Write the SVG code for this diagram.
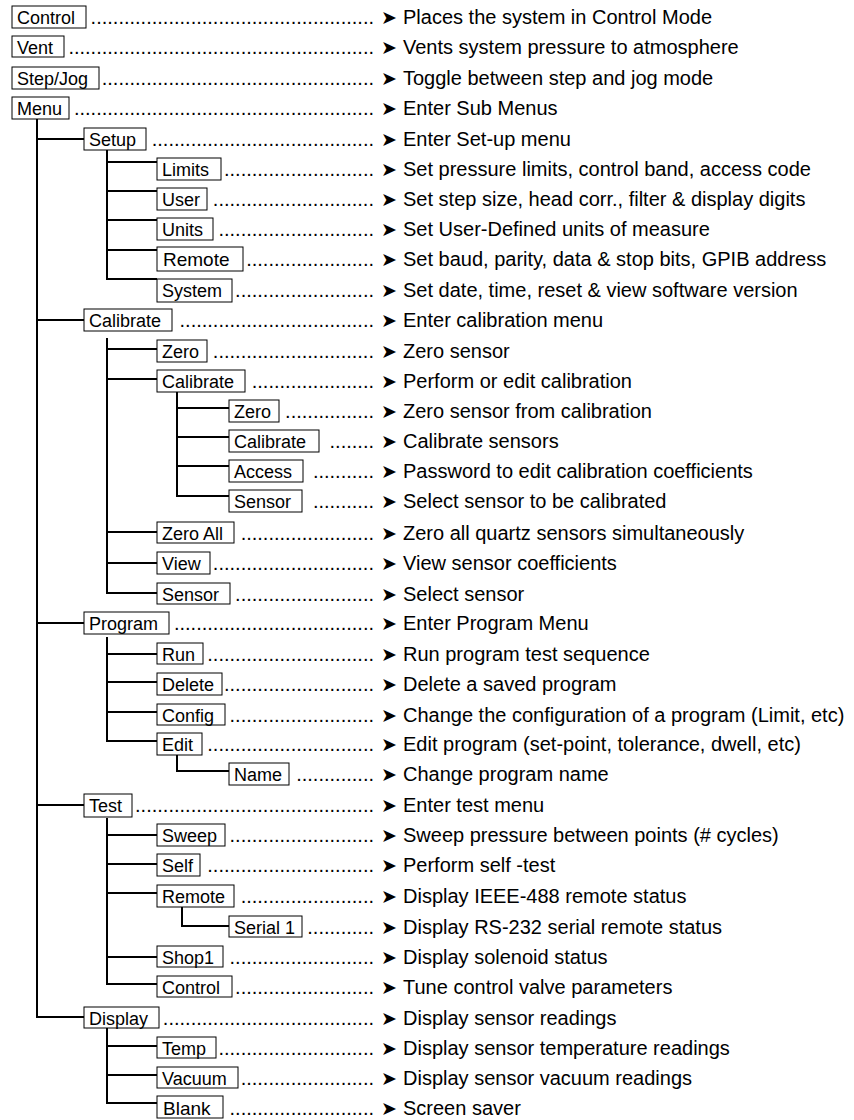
<svg xmlns="http://www.w3.org/2000/svg" width="854" height="1120" viewBox="0 0 854 1120">
<style>
.box{fill:#fff;stroke:#000;stroke-width:1}
.lbl{font-family:"Liberation Sans",Arial,sans-serif;font-size:18px;fill:#000}
.dots{font-family:"Liberation Sans",Arial,sans-serif;font-size:20px;fill:#000;text-anchor:end}
.desc{font-family:"Liberation Sans",Arial,sans-serif;font-size:20px;fill:#000}
.arr{font-family:"DejaVu Sans",sans-serif;font-size:19px;fill:#000}
.tree{stroke:#000;stroke-width:2;fill:none}
</style>
<rect width="854" height="1120" fill="#fff"/>
<g id="connectors" class="tree">
<path d="M37,119V1017H84M37,139H84M37,320H84M37,623H84M37,805H84"/>
<path d="M107,150V279H157M107,162H157M107,191H157M107,220H157M107,250H157"/>
<path d="M107,338V593H157M107,349H157M107,379H157M107,532H157M107,563H157"/>
<path d="M177,392V496H229M177,408H229M177,437H229M177,466H229"/>
<path d="M107,637V741H157M107,654H157M107,682H157M107,712H157"/>
<path d="M177,755V771H229"/>
<path d="M107,818V984H157M107,835H157M107,864H157M107,893H157M107,957H157"/>
<path d="M182,907V926H229"/>
<path d="M107,1028V1103H157M107,1046H157M107,1075H157"/>
</g>
<g id="n-control"><rect class="box" x="12" y="6" width="74" height="22"/><text class="lbl" x="17" y="24">Control</text><text class="dots" x="374" y="24">...................................................</text><text class="arr" x="381" y="24">➤</text><text class="desc" x="403" y="24">Places the system in Control Mode</text></g>
<g id="n-vent"><rect class="box" x="12" y="36" width="52" height="21"/><text class="lbl" x="17" y="54">Vent</text><text class="dots" x="374" y="54">.......................................................</text><text class="arr" x="381" y="54">➤</text><text class="desc" x="403" y="54">Vents system pressure to atmosphere</text></g>
<g id="n-stepjog"><rect class="box" x="12" y="67" width="87" height="22"/><text class="lbl" x="17" y="85">Step/Jog</text><text class="dots" x="374" y="85">.................................................</text><text class="arr" x="381" y="85">➤</text><text class="desc" x="403" y="85">Toggle between step and jog mode</text></g>
<g id="n-menu"><rect class="box" x="12" y="97" width="57" height="22"/><text class="lbl" x="17" y="115">Menu</text><text class="dots" x="374" y="115">......................................................</text><text class="arr" x="381" y="115">➤</text><text class="desc" x="403" y="115">Enter Sub Menus</text></g>
<g id="n-setup"><rect class="box" x="84" y="128" width="62" height="22"/><text class="lbl" x="89" y="146">Setup</text><text class="dots" x="374" y="146">........................................</text><text class="arr" x="381" y="146">➤</text><text class="desc" x="403" y="146">Enter Set-up menu</text></g>
<g id="n-limits"><rect class="box" x="157" y="158" width="64" height="22"/><text class="lbl" x="162" y="176">Limits</text><text class="dots" x="374" y="176">...........................</text><text class="arr" x="381" y="176">➤</text><text class="desc" x="403" y="176">Set pressure limits, control band, access code</text></g>
<g id="n-user"><rect class="box" x="157" y="188" width="50" height="22"/><text class="lbl" x="162" y="206">User</text><text class="dots" x="374" y="206">.............................</text><text class="arr" x="381" y="206">➤</text><text class="desc" x="403" y="206">Set step size, head corr., filter &amp; display digits</text></g>
<g id="n-units"><rect class="box" x="157" y="218" width="56" height="22"/><text class="lbl" x="162" y="236">Units</text><text class="dots" x="374" y="236">............................</text><text class="arr" x="381" y="236">➤</text><text class="desc" x="403" y="236">Set User-Defined units of measure</text></g>
<g id="n-remote"><rect class="box" x="157" y="247" width="86" height="24"/><text class="lbl" x="163" y="266" style="font-size:19px">Remote</text><text class="dots" x="374" y="266">.......................</text><text class="arr" x="381" y="266">➤</text><text class="desc" x="403" y="266">Set baud, parity, data &amp; stop bits, GPIB address</text></g>
<g id="n-system"><rect class="box" x="157" y="279" width="75" height="23"/><text class="lbl" x="162" y="297">System</text><text class="dots" x="374" y="297">.........................</text><text class="arr" x="381" y="297">➤</text><text class="desc" x="403" y="297">Set date, time, reset &amp; view software version</text></g>
<g id="n-calibrate"><rect class="box" x="84" y="309" width="88" height="22"/><text class="lbl" x="89" y="327">Calibrate</text><text class="dots" x="374" y="327">...................................</text><text class="arr" x="381" y="327">➤</text><text class="desc" x="403" y="327">Enter calibration menu</text></g>
<g id="n-cal-zero"><rect class="box" x="157" y="340" width="50" height="22"/><text class="lbl" x="162" y="358">Zero</text><text class="dots" x="374" y="358">.............................</text><text class="arr" x="381" y="358">➤</text><text class="desc" x="403" y="358">Zero sensor</text></g>
<g id="n-cal-calibrate"><rect class="box" x="157" y="370" width="88" height="22"/><text class="lbl" x="162" y="388">Calibrate</text><text class="dots" x="374" y="388">......................</text><text class="arr" x="381" y="388">➤</text><text class="desc" x="403" y="388">Perform or edit calibration</text></g>
<g id="n-cc-zero"><rect class="box" x="229" y="400" width="50" height="22"/><text class="lbl" x="234" y="418">Zero</text><text class="dots" x="374" y="418">................</text><text class="arr" x="381" y="418">➤</text><text class="desc" x="403" y="418">Zero sensor from calibration</text></g>
<g id="n-cc-calibrate"><rect class="box" x="229" y="430" width="90" height="22"/><text class="lbl" x="234" y="448">Calibrate</text><text class="dots" x="374" y="448">........</text><text class="arr" x="381" y="448">➤</text><text class="desc" x="403" y="448">Calibrate sensors</text></g>
<g id="n-cc-access"><rect class="box" x="229" y="460" width="74" height="22"/><text class="lbl" x="234" y="478">Access</text><text class="dots" x="374" y="478">...........</text><text class="arr" x="381" y="478">➤</text><text class="desc" x="403" y="478">Password to edit calibration coefficients</text></g>
<g id="n-cc-sensor"><rect class="box" x="229" y="490" width="73" height="22"/><text class="lbl" x="234" y="508">Sensor</text><text class="dots" x="374" y="508">...........</text><text class="arr" x="381" y="508">➤</text><text class="desc" x="403" y="508">Select sensor to be calibrated</text></g>
<g id="n-cal-zeroall"><rect class="box" x="157" y="522" width="77" height="21"/><text class="lbl" x="162" y="540">Zero All</text><text class="dots" x="374" y="540">........................</text><text class="arr" x="381" y="540">➤</text><text class="desc" x="403" y="540">Zero all quartz sensors simultaneously</text></g>
<g id="n-cal-view"><rect class="box" x="157" y="552" width="53" height="22"/><text class="lbl" x="162" y="570">View</text><text class="dots" x="374" y="570">.............................</text><text class="arr" x="381" y="570">➤</text><text class="desc" x="403" y="570">View sensor coefficients</text></g>
<g id="n-cal-sensor"><rect class="box" x="157" y="583" width="73" height="21"/><text class="lbl" x="162" y="601">Sensor</text><text class="dots" x="374" y="601">.........................</text><text class="arr" x="381" y="601">➤</text><text class="desc" x="403" y="601">Select sensor</text></g>
<g id="n-program"><rect class="box" x="84" y="612" width="85" height="22"/><text class="lbl" x="89" y="630">Program</text><text class="dots" x="374" y="630">....................................</text><text class="arr" x="381" y="630">➤</text><text class="desc" x="403" y="630">Enter Program Menu</text></g>
<g id="n-run"><rect class="box" x="157" y="643" width="46" height="21"/><text class="lbl" x="162" y="661">Run</text><text class="dots" x="374" y="661">..............................</text><text class="arr" x="381" y="661">➤</text><text class="desc" x="403" y="661">Run program test sequence</text></g>
<g id="n-delete"><rect class="box" x="157" y="673" width="65" height="22"/><text class="lbl" x="162" y="691">Delete</text><text class="dots" x="374" y="691">...........................</text><text class="arr" x="381" y="691">➤</text><text class="desc" x="403" y="691">Delete a saved program</text></g>
<g id="n-config"><rect class="box" x="157" y="704" width="68" height="21"/><text class="lbl" x="162" y="722">Config</text><text class="dots" x="374" y="722">..........................</text><text class="arr" x="381" y="722">➤</text><text class="desc" x="403" y="722">Change the configuration of a program (Limit, etc)</text></g>
<g id="n-edit"><rect class="box" x="157" y="733" width="45" height="22"/><text class="lbl" x="162" y="751">Edit</text><text class="dots" x="374" y="751">..............................</text><text class="arr" x="381" y="751">➤</text><text class="desc" x="403" y="751">Edit program (set-point, tolerance, dwell, etc)</text></g>
<g id="n-name"><rect class="box" x="229" y="763" width="60" height="22"/><text class="lbl" x="234" y="781">Name</text><text class="dots" x="374" y="781">..............</text><text class="arr" x="381" y="781">➤</text><text class="desc" x="403" y="781">Change program name</text></g>
<g id="n-test"><rect class="box" x="84" y="794" width="48" height="23"/><text class="lbl" x="89" y="812">Test</text><text class="dots" x="374" y="812">...........................................</text><text class="arr" x="381" y="812">➤</text><text class="desc" x="403" y="812">Enter test menu</text></g>
<g id="n-sweep"><rect class="box" x="157" y="824" width="68" height="22"/><text class="lbl" x="162" y="842">Sweep</text><text class="dots" x="374" y="842">..........................</text><text class="arr" x="381" y="842">➤</text><text class="desc" x="403" y="842">Sweep pressure between points (# cycles)</text></g>
<g id="n-self"><rect class="box" x="157" y="854" width="43" height="22"/><text class="lbl" x="162" y="872">Self</text><text class="dots" x="374" y="872">..............................</text><text class="arr" x="381" y="872">➤</text><text class="desc" x="403" y="872">Perform self -test</text></g>
<g id="n-test-remote"><rect class="box" x="157" y="885" width="77" height="22"/><text class="lbl" x="162" y="903">Remote</text><text class="dots" x="374" y="903">........................</text><text class="arr" x="381" y="903">➤</text><text class="desc" x="403" y="903">Display IEEE-488 remote status</text></g>
<g id="n-serial1"><rect class="box" x="229" y="916" width="73" height="21"/><text class="lbl" x="234" y="934">Serial 1</text><text class="dots" x="374" y="934">............</text><text class="arr" x="381" y="934">➤</text><text class="desc" x="403" y="934">Display RS-232 serial remote status</text></g>
<g id="n-shop1"><rect class="box" x="157" y="946" width="66" height="21"/><text class="lbl" x="162" y="964">Shop1</text><text class="dots" x="374" y="964">..........................</text><text class="arr" x="381" y="964">➤</text><text class="desc" x="403" y="964">Display solenoid status</text></g>
<g id="n-test-control"><rect class="box" x="157" y="976" width="75" height="21"/><text class="lbl" x="162" y="994">Control</text><text class="dots" x="374" y="994">.........................</text><text class="arr" x="381" y="994">➤</text><text class="desc" x="403" y="994">Tune control valve parameters</text></g>
<g id="n-display"><rect class="box" x="84" y="1007" width="75" height="21"/><text class="lbl" x="89" y="1025">Display</text><text class="dots" x="374" y="1025">......................................</text><text class="arr" x="381" y="1025">➤</text><text class="desc" x="403" y="1025">Display sensor readings</text></g>
<g id="n-temp"><rect class="box" x="157" y="1037" width="59" height="21"/><text class="lbl" x="162" y="1055">Temp</text><text class="dots" x="374" y="1055">............................</text><text class="arr" x="381" y="1055">➤</text><text class="desc" x="403" y="1055">Display sensor temperature readings</text></g>
<g id="n-vacuum"><rect class="box" x="157" y="1067" width="81" height="21"/><text class="lbl" x="162" y="1085">Vacuum</text><text class="dots" x="374" y="1085">........................</text><text class="arr" x="381" y="1085">➤</text><text class="desc" x="403" y="1085">Display sensor vacuum readings</text></g>
<g id="n-blank"><rect class="box" x="157" y="1096" width="66" height="22"/><text class="lbl" x="163" y="1115" style="font-size:19px">Blank</text><text class="dots" x="374" y="1115">..........................</text><text class="arr" x="381" y="1115">➤</text><text class="desc" x="403" y="1115">Screen saver</text></g>
</svg>
